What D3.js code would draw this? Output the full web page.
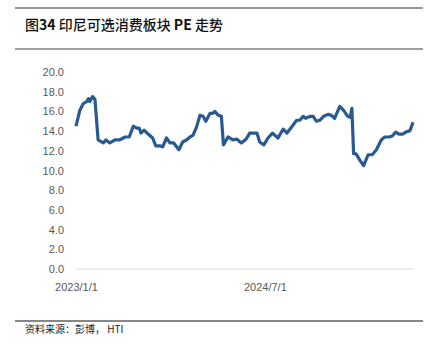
<!DOCTYPE html>
<html><head><meta charset="utf-8">
<script src="https://cdn.jsdelivr.net/npm/d3@7"></script>
<style>
html,body{margin:0;padding:0;background:#fff;}
svg{display:block;}
</style></head>
<body>
<svg id="c" width="440" height="353"></svg>
<script>
const titleParts = [["图",false],["34",true],[" 印尼可选消费板块 ",false],["PE",true],[" 走势",false]];
const source = "资料来源：彭博， HTI";
const dates = ["2023-01-01","2023-01-12","2023-01-22","2023-02-01","2023-02-06","2023-02-10","2023-02-18","2023-02-25","2023-03-06","2023-03-16","2023-03-21","2023-03-29","2023-04-09","2023-04-24","2023-05-08","2023-05-23","2023-06-04","2023-06-16","2023-06-26","2023-07-03","2023-07-08","2023-07-17","2023-07-29","2023-08-11","2023-08-20","2023-09-01","2023-09-09","2023-09-20","2023-09-30","2023-10-11","2023-10-26","2023-11-06","2023-11-17","2023-11-27","2023-12-06","2023-12-16","2023-12-26","2024-01-04","2024-01-12","2024-01-24","2024-02-01","2024-02-07","2024-02-17","2024-02-26","2024-03-03","2024-03-16","2024-03-31","2024-04-10","2024-04-24","2024-05-08","2024-05-18","2024-05-28","2024-06-08","2024-06-16","2024-06-28","2024-07-10","2024-07-23","2024-08-08","2024-08-23","2024-09-03","2024-09-16","2024-10-01","2024-10-10","2024-10-20","2024-10-27","2024-11-10","2024-11-18","2024-11-27","2024-12-07","2024-12-18","2024-12-31","2025-01-10","2025-01-19","2025-02-03","2025-02-14","2025-02-26","2025-03-05","2025-03-10","2025-03-15","2025-03-22","2025-04-01","2025-04-13","2025-04-26","2025-05-08","2025-05-20","2025-06-03","2025-06-13","2025-06-26","2025-07-05","2025-07-15","2025-07-24","2025-08-05","2025-08-13","2025-08-22","2025-08-26","2025-09-03"];
const pe = [14.5,16.1,16.8,17.0,17.3,17.0,17.5,17.2,13.1,12.9,12.8,13.1,12.8,13.1,13.1,13.4,13.4,14.5,14.3,14.3,13.8,14.1,13.7,13.3,12.5,12.5,12.4,13.3,12.8,12.8,12.1,12.9,13.1,13.4,13.6,14.4,15.6,15.5,15.0,15.8,15.8,16.0,15.6,15.5,12.6,13.4,13.1,13.2,12.8,13.2,13.8,13.8,13.8,12.9,12.6,13.3,13.8,13.3,14.2,13.8,14.4,15.1,15.1,15.5,15.3,15.5,15.5,15.0,15.1,15.5,15.7,15.6,15.3,16.5,16.1,15.5,15.4,16.3,11.7,11.7,11.1,10.5,11.6,11.6,12.1,13.1,13.4,13.4,13.5,13.9,13.7,13.7,13.9,14.0,14.1,14.9];
const yTicks = [0,2,4,6,8,10,12,14,16,18,20];
const xTickLabels = ["2023/1/1","2024/7/1"];

const parse = d3.timeParse("%Y-%m-%d");
const data = dates.map((d,i)=>({date:parse(d), v:pe[i]}));
const svg = d3.select("#c");

// header
svg.append("line").attr("x1",15).attr("x2",423).attr("y1",8).attr("y2",8).attr("stroke","#333").attr("stroke-width",1.2);
const t = svg.append("text").attr("x",25).attr("y",30).attr("font-family","'Noto Sans CJK SC',sans-serif").attr("font-size",14).attr("fill","#111");
titleParts.forEach(([s,b])=>t.append("tspan").attr("font-weight", b ? "bold" : 500).attr("xml:space","preserve").text(s));
svg.append("line").attr("x1",15).attr("x2",423).attr("y1",49).attr("y2",49).attr("stroke","#7f7f7f").attr("stroke-width",1.5);

const x = d3.scaleTime().domain([parse("2023-01-01"), parse("2025-09-03")]).range([76, 413]);
const y = d3.scaleLinear().domain([0,20]).range([269,72]);

// y axis labels
const ya = svg.append("g").attr("transform","translate(64,0)")
  .call(d3.axisLeft(y).tickValues(yTicks).tickFormat(d3.format(".1f")).tickSize(0).tickPadding(0));
ya.select(".domain").remove();
ya.selectAll("text").attr("font-family","'Liberation Sans',sans-serif").attr("font-size",11).attr("fill","#595959");

// x axis
const xa = svg.append("g").attr("transform","translate(0,269)")
  .call(d3.axisBottom(x).tickValues(xTickLabels.map(s=>d3.timeParse("%Y/%m/%d")(s))).tickFormat((d,i)=>xTickLabels[i]).tickSize(0).tickPadding(14));
xa.select(".domain").attr("stroke","#d9d9d9").attr("stroke-width",1).attr("d","M76,0H413");
xa.selectAll("text").attr("font-family","'Liberation Sans',sans-serif").attr("font-size",11).attr("fill","#595959");

// line
svg.append("path").datum(data)
  .attr("d", d3.line().x(d=>x(d.date)).y(d=>y(d.v)))
  .attr("fill","none").attr("stroke","#285a91").attr("stroke-width",3.2).attr("stroke-linejoin","round");

// footer
svg.append("line").attr("x1",15).attr("x2",423).attr("y1",321).attr("y2",321).attr("stroke","#111").attr("stroke-width",1.2);
svg.append("text").attr("x",25).attr("y",333).attr("font-family","'Noto Sans CJK SC',sans-serif").attr("font-size",10).attr("fill","#222").attr("xml:space","preserve").text(source);
</script>
</body></html>
